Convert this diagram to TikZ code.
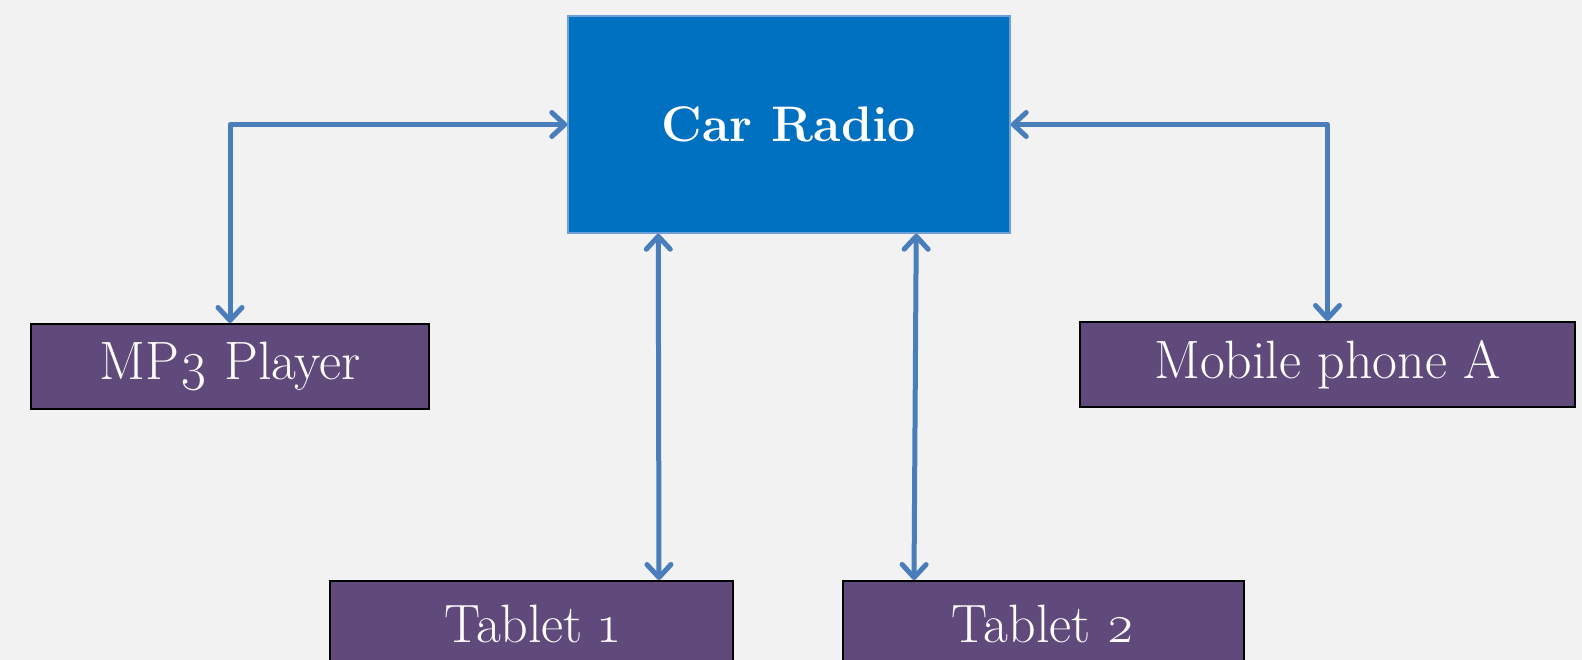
\documentclass[tikz,border=0pt]{standalone}
\usepackage{fontspec}
\setmainfont{Latin Modern Roman}[Numbers=OldStyle]
\usetikzlibrary{arrows.meta,calc}
\definecolor{bgc}{HTML}{F2F2F2}
\definecolor{radioblue}{HTML}{0070C0}
\definecolor{radioedge}{HTML}{6F9FD8}
\definecolor{devpurple}{HTML}{604A7B}
\definecolor{linkblue}{HTML}{4A7EBB}
\tikzset{
  radiobox/.style={draw=radioedge, line width=1.5pt, fill=radioblue, text=white,
    minimum width=442pt, minimum height=217pt, inner sep=0pt,
    font=\fontsize{50}{56}\selectfont\bfseries},
  devbox/.style={draw=black, line width=2pt, fill=devpurple, text=white,
    minimum height=85pt, inner sep=0pt,
    font=\fontsize{54}{60}\selectfont},
  tip/.tip={Straight Barb[length=13pt,width=24pt,line width=5pt,line cap=round,line join=round]},
  link/.style={draw=linkblue, line width=5pt, line join=round, tip-tip}
}
\begin{document}
\begin{tikzpicture}[x=1pt,y=-1pt]
  \fill[bgc] (0,0) rectangle (1582,660);
  \useasboundingbox (0,0) rectangle (1582,660);

  % central unit and the four devices
  \node[radiobox] (car) at (789,124.5) {Car Radio};
  \node[devbox, minimum width=398pt] (mp3) at (230,366.5) {MP3 Player};
  \node[devbox, minimum width=495pt] (mob) at (1327.5,364.5) {Mobile phone A};
  \node[devbox, minimum width=403pt] (t1) at (531.5,623.5) {Tablet 1};
  \node[devbox, minimum width=401pt] (t2) at (1043.5,623.5) {Tablet 2};

  % two-way connections
  \draw[link] (mp3.north) |- (car.west);
  \draw[link] (mob.north) |- (car.east);
  \draw[link] ($(car.south west)+(91,0)$) -- ($(t1.north west)+(330,0)$);
  \draw[link] ($(car.south west)+(349,0)$) -- ($(t2.north west)+(72,0)$);
\end{tikzpicture}
\end{document}
